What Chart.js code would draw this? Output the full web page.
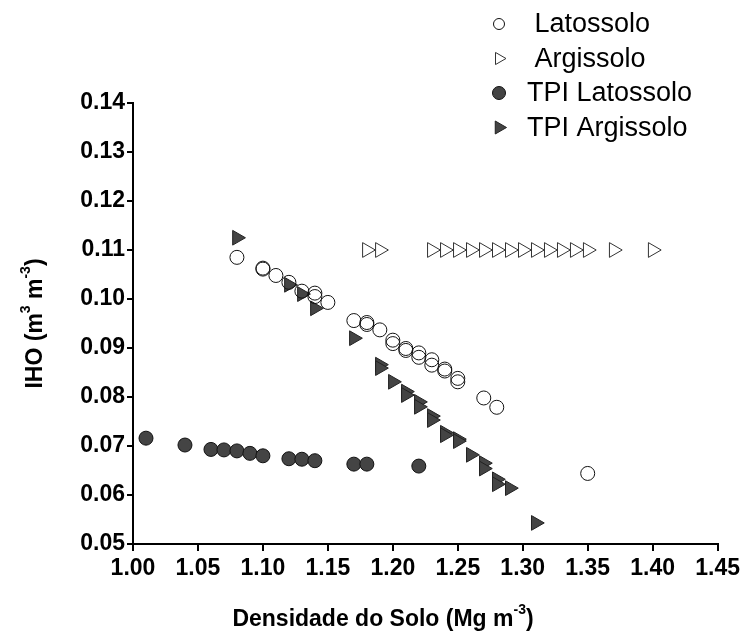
<!DOCTYPE html>
<html>
<head>
<meta charset="utf-8">
<script src="https://cdn.jsdelivr.net/npm/chart.js@4/dist/chart.umd.min.js"></script>
<style>
  html, body { margin: 0; padding: 0; background: #fff; }
  #wrap { width: 744px; height: 640px; }
</style>
</head>
<body>
<div id="wrap"><canvas id="ihoChart" width="744" height="640"></canvas></div>
<script>
// values (density in Mg m-3, IHO in m3 m-3)
const latossoloX = [1.08, 1.10, 1.10, 1.11, 1.12, 1.13, 1.14, 1.14, 1.15, 1.17, 1.18, 1.18, 1.19, 1.20, 1.20,
  1.21, 1.21, 1.22, 1.22, 1.23, 1.23, 1.24, 1.24, 1.25, 1.25, 1.27, 1.28, 1.35];
const latossoloY = [0.1085, 0.1063, 0.1061, 0.1048, 0.1034, 0.1016, 0.1012, 0.1005, 0.0993, 0.0956, 0.0952, 0.0948, 0.0937, 0.0916, 0.0909,
  0.0899, 0.0895, 0.0890, 0.0881, 0.0876, 0.0865, 0.0857, 0.0853, 0.0838, 0.0831, 0.0798, 0.0779, 0.0644];

const argissoloX = [1.18, 1.19, 1.23, 1.24, 1.25, 1.26, 1.27, 1.28, 1.29, 1.30, 1.31, 1.32, 1.33, 1.34, 1.35, 1.37, 1.40];
const argissoloY = [0.110, 0.110, 0.110, 0.110, 0.110, 0.110, 0.110, 0.110, 0.110, 0.110, 0.110, 0.110, 0.110, 0.110, 0.110, 0.110, 0.110];

const tpiLatossoloX = [1.01, 1.04, 1.06, 1.07, 1.08, 1.09, 1.10, 1.12, 1.13, 1.14, 1.17, 1.18, 1.22];
const tpiLatossoloY = [0.0716, 0.0702, 0.0693, 0.0692, 0.0690, 0.0685, 0.0680, 0.0674, 0.0673, 0.0670, 0.0663, 0.0663, 0.0659];

const tpiArgissoloX = [1.08, 1.12, 1.13, 1.14, 1.17, 1.19, 1.19, 1.20, 1.21, 1.21, 1.22, 1.22, 1.23, 1.23,
  1.24, 1.24, 1.25, 1.25, 1.26, 1.27, 1.27, 1.28, 1.28, 1.29, 1.31];
const tpiArgissoloY = [0.1125, 0.1029, 0.1010, 0.0981, 0.0920, 0.0866, 0.0859, 0.0831, 0.0811, 0.0804, 0.0790, 0.0780, 0.0761, 0.0753,
  0.0727, 0.0722, 0.0714, 0.0710, 0.0682, 0.0665, 0.0654, 0.0632, 0.0622, 0.0614, 0.0543];

const seriesNames = ['Latossolo', 'Argissolo', 'TPI Latossolo', 'TPI Argissolo'];
const xTicks = [1.00, 1.05, 1.10, 1.15, 1.20, 1.25, 1.30, 1.35, 1.40, 1.45];
const yTicks = [0.05, 0.06, 0.07, 0.08, 0.09, 0.10, 0.11, 0.12, 0.13, 0.14];

const FONT = '"Liberation Sans", Arial, Helvetica, sans-serif';

function toPoints(xs, ys) {
  return xs.map((x, i) => ({ x: x, y: ys[i] }));
}

// axis titles with raised exponents, drawn by hand since Chart.js titles are single-font
function drawRich(ctx, parts, x, y, size) {
  const sup = Math.round(size * 0.62);
  let total = 0;
  parts.forEach(p => {
    ctx.font = 'bold ' + (p.sup ? sup : size) + 'px ' + FONT;
    total += ctx.measureText(p.t).width;
  });
  let cx = x - total / 2;
  ctx.textBaseline = 'middle';
  ctx.textAlign = 'left';
  parts.forEach(p => {
    ctx.font = 'bold ' + (p.sup ? sup : size) + 'px ' + FONT;
    ctx.fillText(p.t, cx, p.sup ? y - size * 0.42 : y);
    cx += ctx.measureText(p.t).width;
  });
}

const extrasPlugin = {
  id: 'extras',
  afterDraw(chart) {
    const ctx = chart.ctx;
    const area = chart.chartArea;
    ctx.save();
    ctx.fillStyle = '#000';
    drawRich(ctx, [{ t: 'Densidade do Solo (Mg m' }, { t: '-3', sup: true }, { t: ')' }], 383, 620, 23);
    ctx.translate(36, (area.top + area.bottom) / 2);
    ctx.rotate(-Math.PI / 2);
    drawRich(ctx, [{ t: 'IHO (m' }, { t: '3', sup: true }, { t: ' m' }, { t: '-3', sup: true }, { t: ')' }], 0, 0, 23);
    ctx.restore();

    // legend, one entry per row at the top right
    const legendMarks = [
      { style: 'circle', rot: 0, r: 5.5 },
      { style: 'triangle', rot: 90, r: 7 },
      { style: 'circle', rot: 0, r: 6.5 },
      { style: 'triangle', rot: 90, r: 7.5 }
    ];
    const labels = [' ' + seriesNames[0], ' ' + seriesNames[1], seriesNames[2], seriesNames[3]];
    ctx.save();
    ctx.font = '27px ' + FONT;
    ctx.textBaseline = 'middle';
    ctx.textAlign = 'left';
    chart.data.datasets.forEach((ds, i) => {
      const y = 24 + i * 34.5;
      const m = legendMarks[i];
      ctx.fillStyle = ds.backgroundColor;
      ctx.strokeStyle = ds.borderColor;
      ctx.lineWidth = 1;
      Chart.helpers.drawPoint(ctx, { pointStyle: m.style, rotation: m.rot, radius: m.r, borderWidth: 1 }, 499, y);
      ctx.fillStyle = '#000';
      ctx.fillText(labels[i], 527, y + 1);
    });
    ctx.restore();
  }
};

const ctx = document.getElementById('ihoChart').getContext('2d');
new Chart(ctx, {
  type: 'scatter',
  data: {
    datasets: [
      {
        label: seriesNames[0],
        data: toPoints(latossoloX, latossoloY),
        pointStyle: 'circle',
        pointRadius: 7,
        backgroundColor: 'rgba(255,255,255,0)',
        borderColor: '#111',
        borderWidth: 1
      },
      {
        label: seriesNames[1],
        data: toPoints(argissoloX, argissoloY),
        pointStyle: 'triangle',
        pointRotation: 90,
        pointRadius: 8.5,
        backgroundColor: '#fff',
        borderColor: '#333',
        borderWidth: 1
      },
      {
        label: seriesNames[2],
        data: toPoints(tpiLatossoloX, tpiLatossoloY),
        pointStyle: 'circle',
        pointRadius: 7,
        backgroundColor: '#444',
        borderColor: '#111',
        borderWidth: 1
      },
      {
        label: seriesNames[3],
        data: toPoints(tpiArgissoloX, tpiArgissoloY),
        pointStyle: 'triangle',
        pointRotation: 90,
        pointRadius: 8.5,
        backgroundColor: '#444',
        borderColor: '#222',
        borderWidth: 1
      }
    ]
  },
  options: {
    responsive: false,
    animation: false,
    layout: { padding: { top: 103, right: 26, left: 0, bottom: 0 } },
    plugins: {
      legend: { display: false },
      tooltip: { enabled: false }
    },
    scales: {
      x: {
        type: 'linear',
        min: xTicks[0],
        max: xTicks[xTicks.length - 1],
        afterBuildTicks: s => { s.ticks = xTicks.map(v => ({ value: v })); },
        afterFit: s => { s.height = 96; },
        border: { display: true, color: '#000', width: 2 },
        grid: { drawOnChartArea: false, drawTicks: true, tickLength: 7, color: '#000', lineWidth: 2 },
        ticks: {
          color: '#000',
          padding: 4,
          font: { family: FONT, size: 23, weight: 'bold' },
          callback: v => Number(v).toFixed(2)
        }
      },
      y: {
        type: 'linear',
        min: yTicks[0],
        max: yTicks[yTicks.length - 1],
        afterBuildTicks: s => { s.ticks = yTicks.map(v => ({ value: v })); },
        afterFit: s => { s.width = 133; },
        border: { display: true, color: '#000', width: 2 },
        grid: { drawOnChartArea: false, drawTicks: true, tickLength: 6, color: '#000', lineWidth: 2 },
        ticks: {
          color: '#000',
          padding: 2,
          font: { family: FONT, size: 23, weight: 'bold' },
          callback: v => Number(v).toFixed(2)
        }
      }
    }
  },
  plugins: [extrasPlugin]
});
</script>
</body>
</html>
